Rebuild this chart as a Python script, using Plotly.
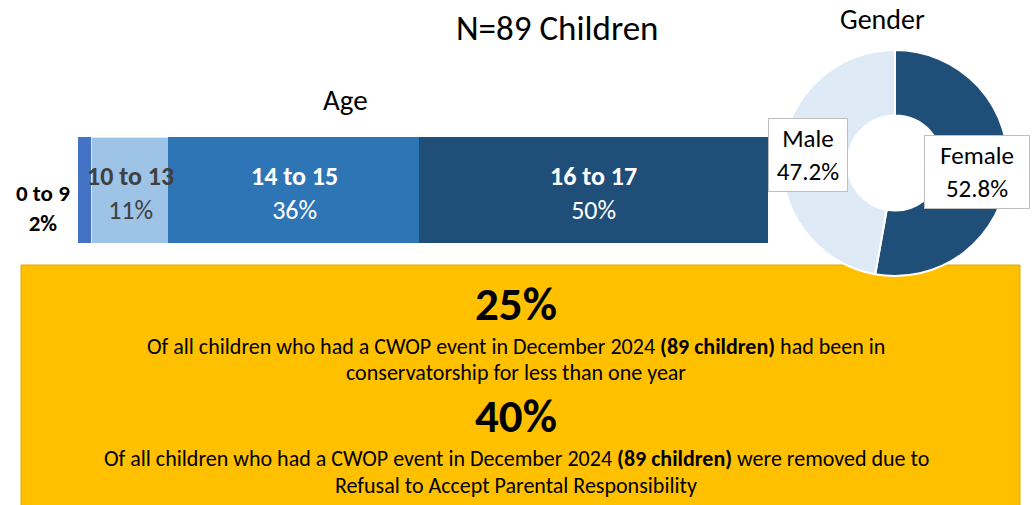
import plotly.graph_objects as go

# ---------------- data ----------------
age_groups = ["0 to 9", "10 to 13", "14 to 15", "16 to 17"]
age_pct = [2, 11, 36, 50]
age_colors = ["#4472C4", "#9DC3E6", "#2E75B6", "#1F4E79"]
age_text_colors = ["#000000", "#404040", "#FFFFFF", "#FFFFFF"]

gender_labels = ["Female", "Male"]
gender_pct = [52.8, 47.2]
gender_colors = ["#1F4E79", "#DEEBF7"]

title_text = "N=89 Children"
stat1_value = "25%"
stat1_lines = ["Of all children who had a CWOP event in December 2024 <b>(89 children)</b> had been in",
               "conservatorship for less than one year"]
stat2_value = "40%"
stat2_lines = ["Of all children who had a CWOP event in December 2024 <b>(89 children)</b> were removed due to",
               "Refusal to Accept Parental Responsibility"]

W, H = 1033, 505
FONT = "Carlito, Lato, sans-serif"


def py(p):
    return 1 - p / H


def px(p):
    return p / W


fig = go.Figure()

# stacked horizontal bar for age
for g, v, c in zip(age_groups, age_pct, age_colors):
    fig.add_trace(go.Bar(
        y=["Age"], x=[v], orientation="h", name=g,
        marker=dict(color=c, line=dict(color="#DDE6F0" if c == "#9DC3E6" else c, width=1)),
        width=1, hoverinfo="skip", showlegend=False,
    ))

# donut for gender
fig.add_trace(go.Pie(
    labels=gender_labels, values=gender_pct, hole=0.42, sort=False,
    direction="clockwise", rotation=0,
    marker=dict(colors=gender_colors, line=dict(color="#FFFFFF", width=2)),
    textinfo="none", hoverinfo="skip", showlegend=False,
    domain=dict(x=[px(782), px(1008)], y=[py(276), py(50)]),
))

total = sum(age_pct)
annotations = []

# bar labels
cum = 0
for i, (g, v, tc) in enumerate(zip(age_groups, age_pct, age_text_colors)):
    mid = cum + v / 2
    cum += v
    if i == 0:
        annotations.append(dict(
            x=0, y=0, xref="x", yref="y", xanchor="right", yanchor="middle", xshift=-6, yshift=-18,
            text=f"<b>{g}<br>{v}%</b>", showarrow=False, align="center",
            font=dict(family=FONT, size=23, color=tc)))
    else:
        annotations.append(dict(
            x=mid, y=0, xref="x", yref="y", xanchor="center", yanchor="middle", yshift=-3,
            text=f"<b>{g}</b><br>{v}%", showarrow=False, align="center",
            font=dict(family=FONT, size=26, color=tc)))

# pie labels (label boxes)
pie_label_box = {"Male": (808, 155, 80, 74), "Female": (977, 172, 106, 74)}
for lab, v in zip(gender_labels, gender_pct):
    cx, cy, bw, bh = pie_label_box[lab]
    annotations.append(dict(
        x=px(cx), y=py(cy), xref="paper", yref="paper", xanchor="center", yanchor="middle",
        text=f"{lab}<br>{v:.1f}%", showarrow=False, align="center", valign="middle",
        width=bw - 2, height=bh - 2, borderpad=0,
        bgcolor="#FFFFFF", bordercolor="#BFBFBF", borderwidth=1,
        font=dict(family=FONT, size=25, color="#000000")))

# titles
annotations += [
    dict(x=px(557), y=py(28), text=title_text, font=dict(family=FONT, size=35, color="#000000")),
    dict(x=px(882), y=1, yanchor="top", text="Gender", font=dict(family=FONT, size=28, color="#000000")),
    dict(x=px(345), y=py(100), text="Age", font=dict(family=FONT, size=29, color="#000000")),
]

# yellow box text
cxy = px(516)
annotations += [
    dict(x=cxy, y=py(304), text=f"<b>{stat1_value}</b>", font=dict(family=FONT, size=47, color="#000000")),
    dict(x=cxy, y=py(346), text=stat1_lines[0], font=dict(family=FONT, size=22, color="#000000")),
    dict(x=cxy, y=py(372), text=stat1_lines[1], font=dict(family=FONT, size=22, color="#000000")),
    dict(x=cxy, y=py(416), text=f"<b>{stat2_value}</b>", font=dict(family=FONT, size=47, color="#000000")),
    dict(x=cxy, y=py(458), text=stat2_lines[0], font=dict(family=FONT, size=22, color="#000000")),
    dict(x=cxy, y=py(485), text=stat2_lines[1], font=dict(family=FONT, size=22, color="#000000")),
]
for a in annotations:
    a.setdefault("xref", "paper")
    a.setdefault("yref", "paper")
    a.setdefault("showarrow", False)
    a.setdefault("xanchor", "center")
    a.setdefault("yanchor", "middle")

fig.update_layout(
    width=W, height=H, margin=dict(l=0, r=0, t=0, b=0),
    paper_bgcolor="#FFFFFF", plot_bgcolor="rgba(0,0,0,0)",
    barmode="stack", bargap=0, hovermode=False,
    xaxis=dict(domain=[px(78), px(768)], range=[0, total], visible=False, fixedrange=True),
    yaxis=dict(domain=[py(243), py(137)], range=[-0.5, 0.5], visible=False, fixedrange=True),
    shapes=[dict(type="rect", xref="paper", yref="paper",
                 x0=px(21), x1=px(1020), y0=py(506), y1=py(265),
                 fillcolor="#FFC000", line=dict(color="#E0A800", width=1), layer="below")],
    annotations=annotations,
)

fig.write_html("out.html", config={"displayModeBar": False, "staticPlot": True},
               post_script="document.body.style.margin='0';document.documentElement.style.overflow='hidden';")
